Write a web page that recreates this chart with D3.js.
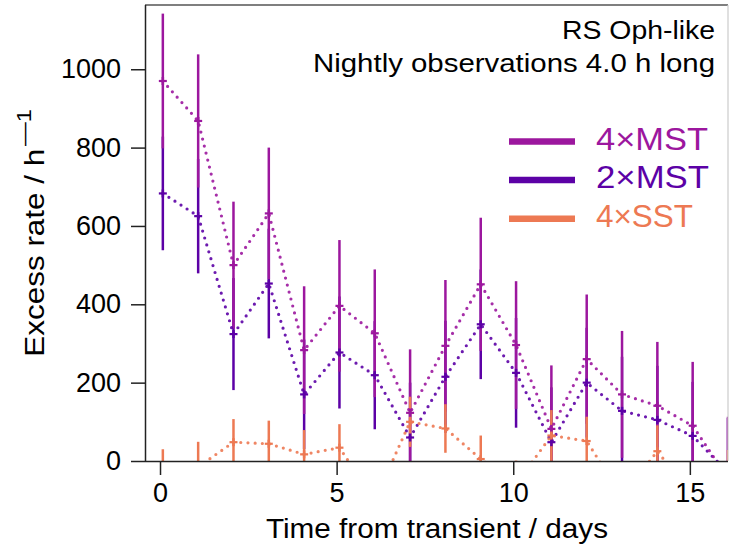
<!DOCTYPE html>
<html>
<head>
<meta charset="utf-8">
<script src="https://cdn.jsdelivr.net/npm/d3@7"></script>
<style>
  html, body { margin: 0; padding: 0; background: #fff; }
  svg { display: block; font-family: "Liberation Sans", Arial, Helvetica, sans-serif; }
</style>
</head>
<body>
<svg id="chart" width="729" height="545"></svg>
<script>
// ---- data ----
const times   = [0.08, 1.08, 2.08, 3.08, 4.08, 5.08, 6.08, 7.08, 8.08, 9.08, 10.08, 11.08, 12.08, 13.08, 14.08, 15.08, 16.08];
const mst4    = [970, 868, 500, 632, 283, 396, 326, 123, 294, 451, 296, 82, 260, 170, 141, 90, -45];
const mst4Err = [172, 170, 162, 168, 163, 168, 163, 162, 168, 170, 163, 162, 165, 162, 163, 163, 158];
const mst2    = [683, 625, 324, 453, 170, 277, 219, 60, 215, 349, 225, 48, 200, 128, 105, 64, -30];
const mst2Err = [145, 146, 143, 140, 140, 143, 138, 140, 143, 140, 140, 140, 140, 138, 138, 138, 140];
const sst4    = [-33, -15, 48, 44, 17, 34, -100, 100, 83, 5, -59, 65, 51, -92, 25, -90, -35];
const sst4Err = [63, 64, 59, 59, 62, 60, 64, 64, 62, 60, 60, 65, 62, 64, 66, 64, 63];
const seriesNames = ["4×MST", "2×MST", "4×SST"];
const xTicks = [0, 5, 10, 15];
const yTicks = [0, 200, 400, 600, 800, 1000];
const titleLines = ["RS Oph-like", "Nightly observations 4.0 h long"];

const colors = {"4×MST": "#9c179e", "2×MST": "#5c01a6", "4×SST": "#ed7953"};
const series = [
  {name: "2×MST", v: mst2, e: mst2Err},
  {name: "4×MST", v: mst4, e: mst4Err},
  {name: "4×SST", v: sst4, e: sst4Err}
];

const svg = d3.select("#chart");
const L = 145, R = 728, T = 5, B = 461;
const x = d3.scaleLinear().domain([-0.425, 16.08]).range([L, R]);
const y = d3.scaleLinear().domain([0, 1164]).range([B, T]);

svg.append("defs").append("clipPath").attr("id", "clip")
  .append("rect").attr("x", L).attr("y", T).attr("width", R - L).attr("height", B - T);

const plot = svg.append("g").attr("clip-path", "url(#clip)");

// error bars
series.forEach(s => {
  plot.append("g").selectAll("line").data(times).join("line")
    .attr("x1", (t) => x(t)).attr("x2", (t) => x(t))
    .attr("y1", (t, i) => y(s.v[i] - s.e[i]))
    .attr("y2", (t, i) => y(s.v[i] + s.e[i]))
    .attr("stroke", colors[s.name]).attr("stroke-width", 2.5);
});
// dotted lines and markers
series.forEach(s => {
  const line = d3.line().x((t) => x(t)).y((t, i) => y(s.v[i]));
  plot.append("path").datum(times).attr("d", line)
    .attr("fill", "none").attr("stroke", colors[s.name])
    .attr("stroke-width", 3.2).attr("stroke-linecap", "round")
    .attr("stroke-dasharray", "0 7.2").attr("opacity", 0.9);
  const g = plot.append("g");
  g.selectAll("line.h").data(times).join("line").attr("class", "h")
    .attr("x1", (t) => x(t) - 4).attr("x2", (t) => x(t) + 4)
    .attr("y1", (t, i) => y(s.v[i])).attr("y2", (t, i) => y(s.v[i]))
    .attr("stroke", colors[s.name]).attr("stroke-width", 2.2);
  g.selectAll("line.v").data(times).join("line").attr("class", "v")
    .attr("x1", (t) => x(t)).attr("x2", (t) => x(t))
    .attr("y1", (t, i) => y(s.v[i]) - 4).attr("y2", (t, i) => y(s.v[i]) + 4)
    .attr("stroke", colors[s.name]).attr("stroke-width", 2.5);
});

// frame
svg.append("line").attr("x1", L).attr("x2", R).attr("y1", T).attr("y2", T).attr("stroke", "#555").attr("stroke-width", 1.5);
svg.append("line").attr("x1", R).attr("x2", R).attr("y1", T).attr("y2", B).attr("stroke", "#ccc").attr("stroke-width", 1.2);

// axes
const xAxis = svg.append("g").attr("transform", `translate(0,${B})`)
  .call(d3.axisBottom(x).tickValues(xTicks).tickFormat(d3.format("d")).tickSize(14).tickSizeOuter(0).tickPadding(8));
const yAxis = svg.append("g").attr("transform", `translate(${L},0)`)
  .call(d3.axisLeft(y).tickValues(yTicks).tickFormat(d3.format("d")).tickSize(14).tickSizeOuter(0).tickPadding(10));
[xAxis, yAxis].forEach(a => {
  a.select(".domain").attr("stroke", "#222").attr("stroke-width", 1.5);
  a.selectAll(".tick line").attr("stroke", "#222").attr("stroke-width", 1.5);
  a.selectAll(".tick text").attr("fill", "#000").attr("font-size", 27)
    .attr("font-family", "'Liberation Sans', Arial, sans-serif");
});
yAxis.select(".domain").attr("d", `M0.5,${B}V${T}`);
xAxis.select(".domain").attr("d", `M${L},0.5H${R}`);

// axis labels
svg.append("text").attr("x", 437).attr("y", 538).attr("text-anchor", "middle")
  .attr("font-size", 27).attr("textLength", 342).attr("lengthAdjust", "spacingAndGlyphs")
  .text("Time from transient / days");
svg.append("text").attr("transform", "translate(43.5,356.7) rotate(-90)")
  .attr("text-anchor", "start").attr("font-size", 27)
  .attr("textLength", 208).attr("lengthAdjust", "spacingAndGlyphs")
  .text("Excess rate / h");
svg.append("text").attr("transform", "translate(31,146) rotate(-90)")
  .attr("text-anchor", "start").attr("font-size", 20)
  .attr("textLength", 37).attr("lengthAdjust", "spacingAndGlyphs")
  .text("—1");

// title
const titleWidths = [153, 402];
svg.append("g").selectAll("text").data(titleLines).join("text")
  .attr("x", 715).attr("y", (d, i) => 39 + i * 32.5)
  .attr("text-anchor", "end").attr("font-size", 26)
  .attr("textLength", (d, i) => titleWidths[i]).attr("lengthAdjust", "spacingAndGlyphs")
  .text(d => d);

// legend
const legendWidths = [112, 113, 97];
const lg = svg.append("g");
seriesNames.forEach((n, i) => {
  const yy = 141.5 + i * 38.6;
  lg.append("line").attr("x1", 509).attr("x2", 575).attr("y1", yy).attr("y2", yy)
    .attr("stroke", colors[n]).attr("stroke-width", 6.5);
  lg.append("text").attr("x", 596).attr("y", yy + 8).attr("font-size", 31)
    .attr("textLength", legendWidths[i]).attr("lengthAdjust", "spacingAndGlyphs")
    .attr("fill", colors[n]).text(n);
});
</script>
</body>
</html>
